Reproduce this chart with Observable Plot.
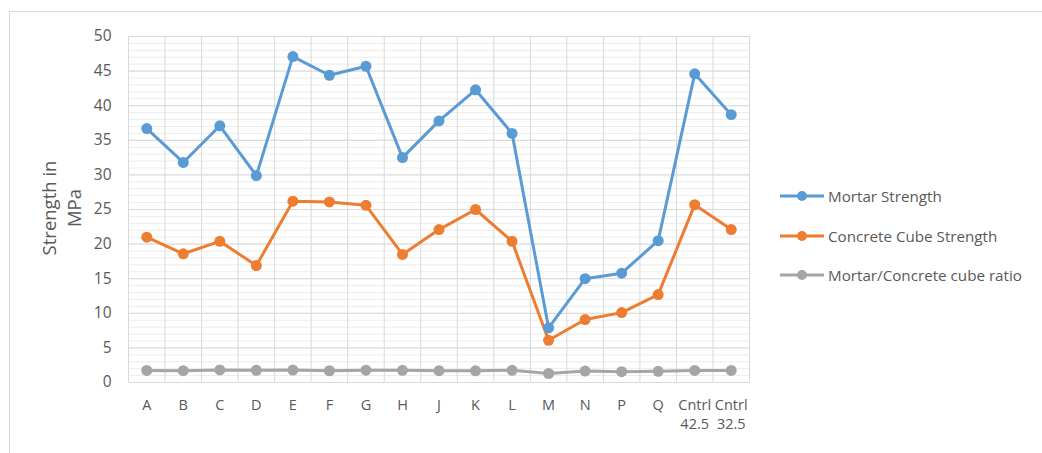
<!DOCTYPE html>
<html><head><meta charset="utf-8">
<script src="https://cdn.jsdelivr.net/npm/d3@7"></script>
<script src="https://cdn.jsdelivr.net/npm/@observablehq/plot@0.6"></script>
<style>
body{margin:0;background:#fff;font-family:"Open Sans",sans-serif;}
#wrap{position:relative;width:1042px;height:453px;overflow:hidden;}
#border{position:absolute;left:9px;top:11px;width:1040px;height:460px;border:1px solid #d9d9d9;box-sizing:border-box;}
#ylab{position:absolute;left:61px;top:208px;transform:translate(-50%,-50%) rotate(-90deg);text-align:center;font-size:18.5px;color:#595959;line-height:25px;white-space:nowrap;}
.leg{position:absolute;left:780px;height:20px;display:flex;align-items:center;font-size:15.2px;color:#595959;}
.leg svg{margin-right:4px}
</style></head><body>
<div id="wrap"><div id="border"></div><div id="chart"></div><div id="ylab">Strength in<br>MPa</div><div id="legend"></div></div>
<script>
const categories = ["A","B","C","D","E","F","G","H","J","K","L","M","N","P","Q","Cntrl\n42.5","Cntrl\n32.5"];
const mortar = [36.7,31.8,37.1,29.9,47.1,44.4,45.7,32.5,37.8,42.3,36.0,7.9,15.0,15.8,20.5,44.6,38.7];
const concrete = [21.0,18.6,20.4,16.9,26.2,26.1,25.6,18.5,22.1,25.0,20.4,6.1,9.1,10.1,12.7,25.7,22.1];
const ratio = [1.75,1.71,1.82,1.77,1.80,1.70,1.78,1.76,1.71,1.69,1.76,1.30,1.65,1.57,1.61,1.74,1.75];
const seriesNames = ["Mortar Strength","Concrete Cube Strength","Mortar/Concrete cube ratio"];
const colors = ["#5B9BD5","#ED7D31","#A5A5A5"];
const yTicks = d3.range(0, 51, 5);

const data = [];
[mortar, concrete, ratio].forEach((arr, s) => arr.forEach((v, i) => data.push({i, v, s: seriesNames[s]})));
const idx = categories.map((c, i) => i);
const edges = d3.range(-0.5, categories.length, 1);

const plot = Plot.plot({
  width: 1042, height: 453,
  marginLeft: 128, marginRight: 293, marginTop: 36, marginBottom: 71,
  style: {fontFamily: "'Open Sans', sans-serif", fontSize: "15px", color: "#595959", background: "transparent"},
  x: {type: "linear", domain: [-0.5, categories.length - 0.5], axis: null},
  y: {domain: [0, 50], axis: null},
  color: {domain: seriesNames, range: colors},
  marks: [
    Plot.ruleY(d3.range(0, 51, 1), {stroke: "#ececec", strokeWidth: 1}),
    Plot.ruleY(yTicks, {stroke: "#d9d9d9", strokeWidth: 1}),
    Plot.ruleX(edges, {stroke: "#d9d9d9", strokeWidth: 1}),
    Plot.frame({stroke: "#d9d9d9"}),
    Plot.axisY({ticks: yTicks, tickSize: 0, tickPadding: 17, fontSize: 15.5, label: null}),
    Plot.axisX({ticks: idx, tickSize: 0, tickPadding: 14, fontSize: 14.5, label: null, tickFormat: i => categories[i], lineHeight: 1.3}),
    Plot.line(data, {x: "i", y: "v", z: "s", stroke: "s", strokeWidth: 3}),
    Plot.dot(data, {x: "i", y: "v", fill: "s", r: 5.5})
  ]
});
document.getElementById("chart").appendChild(plot);

const legTop = [186, 226, 265];
const leg = document.getElementById("legend");
seriesNames.forEach((n, k) => {
  const d = document.createElement("div");
  d.className = "leg"; d.style.top = legTop[k] + "px";
  d.innerHTML = `<svg width="44" height="12"><line x1="0" x2="44" y1="6" y2="6" stroke="${colors[k]}" stroke-width="3"/><circle cx="22" cy="6" r="5" fill="${colors[k]}"/></svg>`;
  const t = document.createElement("span"); t.textContent = n; d.appendChild(t);
  leg.appendChild(d);
});
</script>
</body></html>
